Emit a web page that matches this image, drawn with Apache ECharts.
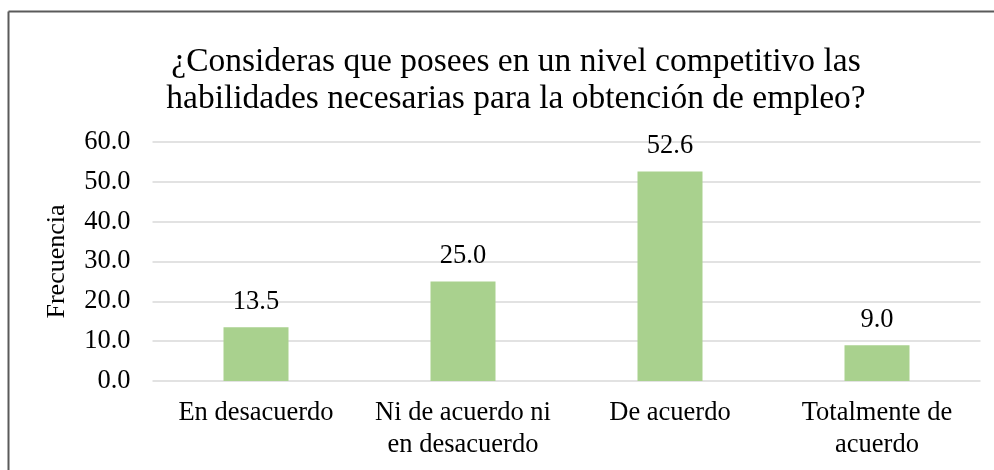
<!DOCTYPE html>
<html>
<head>
<meta charset="utf-8">
<script src="https://cdn.jsdelivr.net/npm/echarts@6/dist/echarts.min.js"></script>
<style>
html,body{margin:0;padding:0;background:#fff;overflow:hidden;}
#chart{width:994px;height:470px;}
</style>
</head>
<body>
<div id="chart"></div>
<script>
const titleText = '¿Consideras que posees en un nivel competitivo las\nhabilidades necesarias para la obtención de empleo?';
const categories = ['En desacuerdo', 'Ni de acuerdo ni\nen desacuerdo', 'De acuerdo', 'Totalmente de\nacuerdo'];
const values = [13.5, 25.0, 52.6, 9.0];
const yTicks = [0, 10, 20, 30, 40, 50, 60];
const yAxisName = 'Frecuencia';

const serif = '"Liberation Serif", "Times New Roman", serif';
const chart = echarts.init(document.getElementById('chart'), null, {renderer: 'canvas'});
chart.setOption({
  backgroundColor: '#ffffff',
  animation: false,
  title: {
    text: titleText,
    left: 511,
    top: 39,
    textAlign: 'center',
    textStyle: {fontFamily: serif, fontSize: 33.5, fontWeight: 'normal', color: '#000', lineHeight: 37}
  },
  graphic: [{
    type: 'line',
    shape: {x1: 8.5, y1: 11.5, x2: 994, y2: 11.5},
    style: {stroke: '#5a5a5a', lineWidth: 2},
    silent: true,
    z: 100
  }, {
    type: 'line',
    shape: {x1: 8.5, y1: 11.5, x2: 8.5, y2: 470},
    style: {stroke: '#5a5a5a', lineWidth: 2},
    silent: true,
    z: 100
  }],
  grid: {left: 152.5, right: 13.5, top: 142, bottom: 89, containLabel: false},
  xAxis: {
    type: 'category',
    data: categories,
    axisLine: {show: false},
    axisTick: {show: false},
    axisLabel: {fontFamily: serif, fontSize: 26.5, color: '#000', margin: 16, lineHeight: 32, interval: 0}
  },
  yAxis: {
    type: 'value',
    min: yTicks[0],
    max: yTicks[yTicks.length - 1],
    interval: 10,
    name: yAxisName,
    nameLocation: 'middle',
    nameRotate: 90,
    nameGap: 82,
    nameTextStyle: {fontFamily: serif, fontSize: 26, color: '#000'},
    axisLine: {show: false},
    axisTick: {show: false},
    axisLabel: {fontFamily: serif, fontSize: 26.5, color: '#000', margin: 22, formatter: v => v.toFixed(1)},
    splitLine: {lineStyle: {color: '#d9d9d9', width: 1.5}}
  },
  series: [{
    type: 'bar',
    data: values,
    barWidth: 65,
    itemStyle: {color: '#a9d18e'},
    label: {
      show: true,
      position: 'top',
      distance: 12,
      fontFamily: serif,
      fontSize: 26.5,
      color: '#000',
      formatter: p => p.value.toFixed(1)
    }
  }]
});
</script>
</body>
</html>
